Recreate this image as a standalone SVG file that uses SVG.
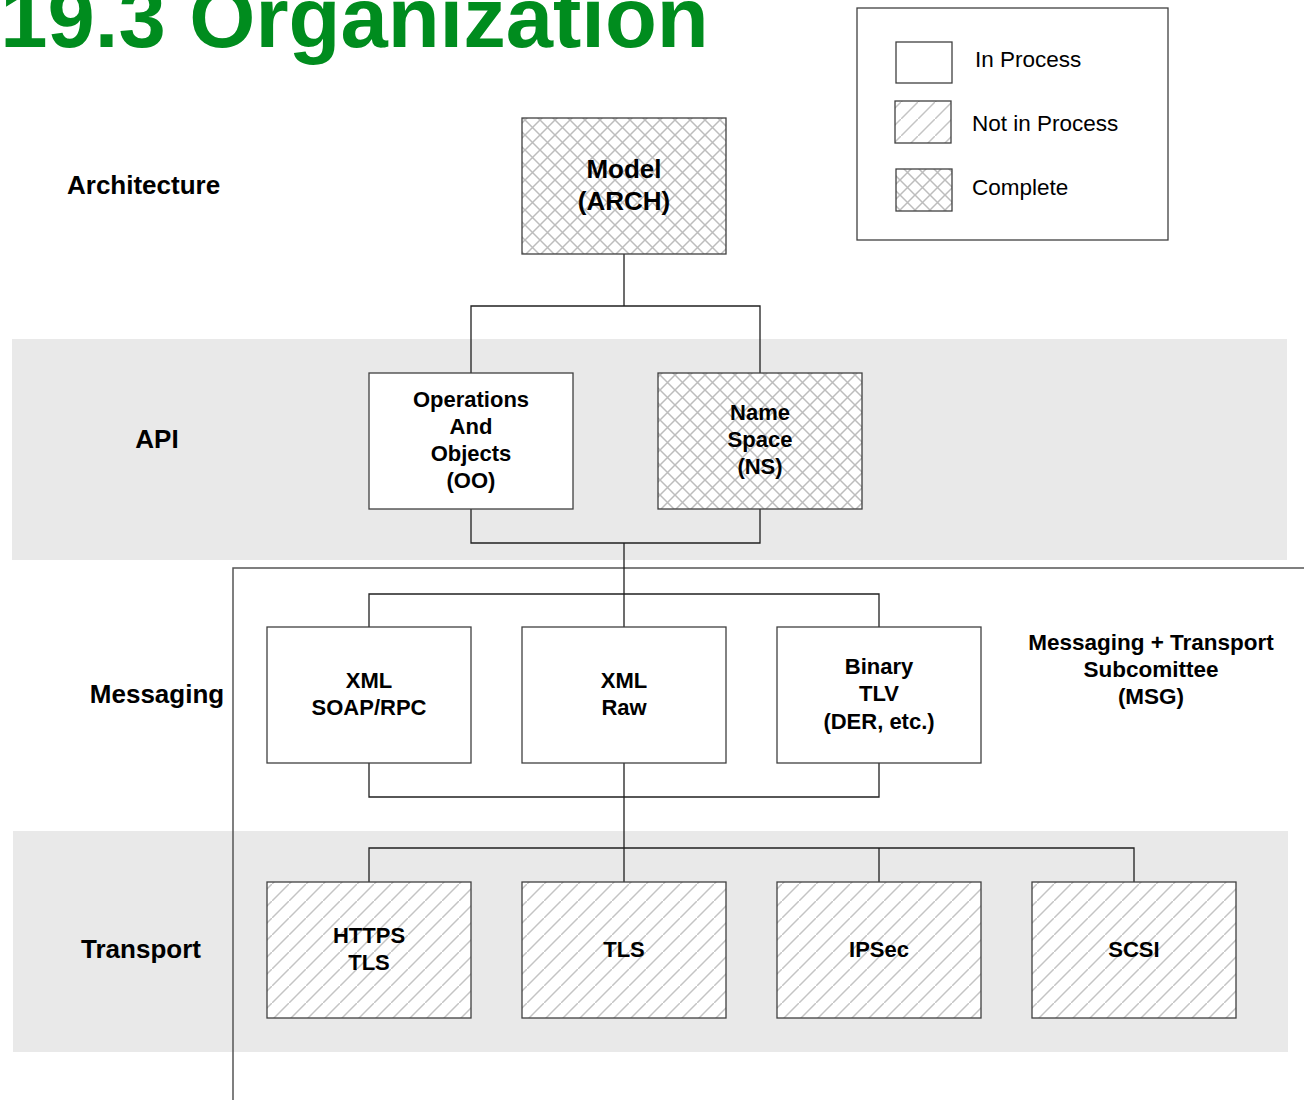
<svg xmlns="http://www.w3.org/2000/svg" width="1304" height="1100" viewBox="0 0 1304 1100">
<style>
text{font-family:"Liberation Sans",Arial,sans-serif;fill:#000}
.b{font-weight:bold}
.c{text-anchor:middle}
.lbl{font-size:26px;font-weight:bold}
.nt{font-size:22px;font-weight:bold;text-anchor:middle}
.box{stroke:#404040;stroke-width:1.3}
.ln{fill:none;stroke:#202020;stroke-width:1.3}
.lg{font-size:22.5px}
</style>
<defs>
<pattern id="cross" width="15" height="15" patternUnits="userSpaceOnUse">
<rect width="15" height="15" fill="#fff"/>
<path d="M0 0L15 15M15 0L0 15" stroke="#bdbdbd" stroke-width="1.5"/>
</pattern>
<pattern id="hatch" width="17" height="17" patternUnits="userSpaceOnUse">
<rect width="17" height="17" fill="#fff"/>
<path d="M-2 19L19 -2" stroke="#c4c4c4" stroke-width="1.5"/>
</pattern>
</defs>
<rect width="1304" height="1100" fill="#fff"/>
<text id="title" x="-151" y="47" class="b" style="font-size:85px;fill:#008c1e">P1619.3 Organization</text>
<rect x="12" y="339" width="1275" height="221" fill="#e9e9e9"/>
<rect x="13" y="831" width="1275" height="221" fill="#e9e9e9"/>
<path d="M233 1100V568H1304" fill="none" stroke="#555" stroke-width="1.5"/>
<g id="legend">
<rect x="857" y="8" width="311" height="232" fill="#fff" stroke="#404040" stroke-width="1.3"/>
<rect x="896" y="42" width="56" height="41" fill="#fff" class="box"/>
<rect x="895" y="101" width="56" height="42" fill="url(#hatch)" class="box"/>
<rect x="896" y="169" width="56" height="42" fill="url(#cross)" class="box"/>
<text x="975" y="67" class="lg">In Process</text>
<text x="972" y="131" class="lg">Not in Process</text>
<text x="972" y="195" class="lg">Complete</text>
</g>
<g id="layer-labels">
<text x="67" y="194" class="lbl">Architecture</text>
<text x="157" y="448" class="lbl c">API</text>
<text x="157" y="703" class="lbl c">Messaging</text>
<text x="141" y="958" class="lbl c">Transport</text>
<text x="1151" y="650" class="nt" style="font-size:22.5px">Messaging + Transport</text>
<text x="1151" y="677" class="nt" style="font-size:22.5px">Subcomittee</text>
<text x="1151" y="704" class="nt" style="font-size:22.5px">(MSG)</text>
</g>
<g id="connectors">
<path class="ln" d="M624 254V306M471 373V306H760V373"/>
<path class="ln" d="M471 509V543H760V509M624 543V594M369 627V594H879V627M624 594V627"/>
<path class="ln" d="M369 763V797H879V763M624 763V848M369 882V848H1134V882M624 848V882M879 848V882"/>
</g>
<g id="model">
<rect x="522" y="118" width="204" height="136" fill="url(#cross)" class="box"/>
<text x="624" y="178" class="b c" style="font-size:26px">Model</text>
<text x="624" y="210" class="b c" style="font-size:26px">(ARCH)</text>
</g>
<g id="oo">
<rect x="369" y="373" width="204" height="136" fill="#fff" class="box"/>
<text x="471" y="407" class="nt">Operations</text>
<text x="471" y="434" class="nt">And</text>
<text x="471" y="461" class="nt">Objects</text>
<text x="471" y="488" class="nt">(OO)</text>
</g>
<g id="ns">
<rect x="658" y="373" width="204" height="136" fill="url(#cross)" class="box"/>
<text x="760" y="420" class="nt">Name</text>
<text x="760" y="447" class="nt">Space</text>
<text x="760" y="474" class="nt">(NS)</text>
</g>
<g id="soap">
<rect x="267" y="627" width="204" height="136" fill="#fff" class="box"/>
<text x="369" y="688" class="nt">XML</text>
<text x="369" y="715" class="nt">SOAP/RPC</text>
</g>
<g id="raw">
<rect x="522" y="627" width="204" height="136" fill="#fff" class="box"/>
<text x="624" y="688" class="nt">XML</text>
<text x="624" y="715" class="nt">Raw</text>
</g>
<g id="tlv">
<rect x="777" y="627" width="204" height="136" fill="#fff" class="box"/>
<text x="879" y="674" class="nt">Binary</text>
<text x="879" y="701" class="nt">TLV</text>
<text x="879" y="729" class="nt">(DER, etc.)</text>
</g>
<g id="https">
<rect x="267" y="882" width="204" height="136" fill="url(#hatch)" class="box"/>
<text x="369" y="943" class="nt">HTTPS</text>
<text x="369" y="970" class="nt">TLS</text>
</g>
<g id="tls">
<rect x="522" y="882" width="204" height="136" fill="url(#hatch)" class="box"/>
<text x="624" y="957" class="nt">TLS</text>
</g>
<g id="ipsec">
<rect x="777" y="882" width="204" height="136" fill="url(#hatch)" class="box"/>
<text x="879" y="957" class="nt">IPSec</text>
</g>
<g id="scsi">
<rect x="1032" y="882" width="204" height="136" fill="url(#hatch)" class="box"/>
<text x="1134" y="957" class="nt">SCSI</text>
</g>
</svg>
